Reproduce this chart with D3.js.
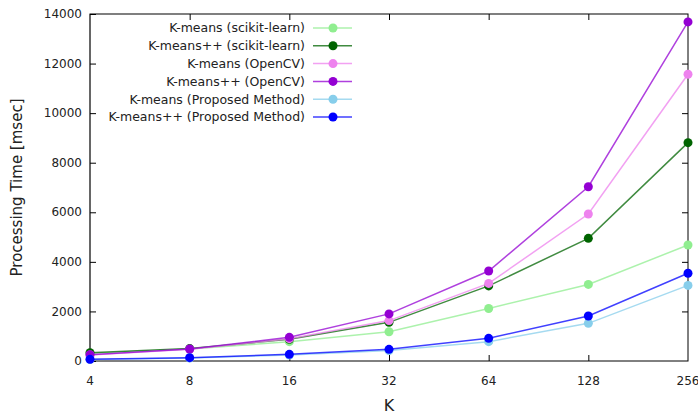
<!DOCTYPE html>
<html>
<head>
<meta charset="UTF-8">
<title></title>
<script src="https://cdn.jsdelivr.net/npm/d3@7/dist/d3.min.js"></script>
<style>
  body { margin: 0; background: #fff; }
  text { font-family: "DejaVu Sans", Verdana, sans-serif; fill: #222; }
</style>
</head>
<body>
<svg id="chart"></svg>
<script>
var kValues = [4, 8, 16, 32, 64, 128, 256];
var yTicks = [0, 2000, 4000, 6000, 8000, 10000, 12000, 14000];

var seriesNames = [
  "K-means (scikit-learn)",
  "K-means++ (scikit-learn)",
  "K-means (OpenCV)",
  "K-means++ (OpenCV)",
  "K-means (Proposed Method)",
  "K-means++ (Proposed Method)"
];
var seriesColors = ["#90ee90", "#006400", "#ee82ee", "#9400d3", "#87ceeb", "#0000ff"];

var kmeansSk     = [300, 480, 780, 1180, 2120, 3090, 4680];
var kmeansppSk   = [335, 500, 875, 1560, 3030, 4950, 8810];
var kmeansCv     = [240, 470, 900, 1630, 3130, 5930, 11570];
var kmeansppCv   = [250, 485, 955, 1900, 3630, 7030, 13680];
var kmeansProp   = [60, 120, 240, 420, 780, 1520, 3050];
var kmeansppProp = [70, 135, 270, 470, 915, 1815, 3540];

var seriesValues = [kmeansSk, kmeansppSk, kmeansCv, kmeansppCv, kmeansProp, kmeansppProp];

var width = 698, height = 414;
var margin = {top: 14, right: 10, bottom: 53, left: 90};

var svg = d3.select("#chart").attr("width", width).attr("height", height);

var x = d3.scaleLog().base(2)
  .domain([4, 256])
  .range([margin.left, width - margin.right]);
var y = d3.scaleLinear()
  .domain([0, 14000])
  .range([height - margin.bottom, margin.top]);

var tickLen = 6;

// frame
svg.append("rect")
  .attr("x", margin.left).attr("y", margin.top)
  .attr("width", width - margin.right - margin.left)
  .attr("height", height - margin.bottom - margin.top)
  .attr("fill", "none").attr("stroke", "#000").attr("stroke-width", 1);
svg.append("line")
  .attr("x1", margin.left).attr("x2", margin.left)
  .attr("y1", margin.top).attr("y2", height - margin.bottom)
  .attr("stroke", "#666").attr("stroke-width", 2);

// y axis (ticks inside, mirrored on right)
var gy = svg.append("g").attr("transform", "translate(" + margin.left + ",0)")
  .call(d3.axisRight(y).tickValues(yTicks).tickSize(tickLen).tickFormat(""));
gy.select(".domain").remove();
svg.append("g").attr("transform", "translate(" + (width - margin.right) + ",0)")
  .call(d3.axisLeft(y).tickValues(yTicks.slice(1, -1)).tickSize(tickLen).tickFormat(""))
  .select(".domain").remove();
svg.append("g").selectAll("text").data(yTicks).enter().append("text")
  .attr("x", margin.left - 8)
  .attr("y", function(d) { return y(d); })
  .attr("dy", "0.35em")
  .attr("text-anchor", "end")
  .attr("font-size", 12)
  .text(function(d) { return d; });

// x axis (ticks inside, mirrored on top)
svg.append("g").attr("transform", "translate(0," + (height - margin.bottom) + ")")
  .call(d3.axisTop(x).tickValues(kValues.slice(1, -1)).tickSize(tickLen).tickFormat(""))
  .select(".domain").remove();
svg.append("g").attr("transform", "translate(0," + margin.top + ")")
  .call(d3.axisBottom(x).tickValues(kValues.slice(1, -1)).tickSize(tickLen).tickFormat(""))
  .select(".domain").remove();
svg.append("g").selectAll("text").data(kValues).enter().append("text")
  .attr("x", function(d) { return x(d); })
  .attr("y", height - margin.bottom + 24)
  .attr("text-anchor", "middle")
  .attr("font-size", 12)
  .text(function(d) { return d; });

svg.selectAll(".tick line").attr("stroke", "#000");

// axis titles
svg.append("text")
  .attr("x", (margin.left + width - margin.right) / 2)
  .attr("y", 411)
  .attr("text-anchor", "middle")
  .attr("font-size", 16)
  .text("K");
svg.append("text")
  .attr("transform", "translate(22," + (margin.top + (height - margin.bottom - margin.top) / 2) + ") rotate(-90)")
  .attr("text-anchor", "middle")
  .attr("font-size", 15)
  .text("Processing Time [msec]");

// series
var line = d3.line()
  .x(function(d, i) { return x(kValues[i]); })
  .y(function(d) { return y(d); });

seriesValues.forEach(function(vals, s) {
  var g = svg.append("g");
  g.append("path").datum(vals)
    .attr("d", line)
    .attr("fill", "none")
    .attr("stroke", seriesColors[s])
    .attr("stroke-opacity", 0.75)
    .attr("stroke-width", 1.5);
  g.selectAll("circle").data(vals).enter().append("circle")
    .attr("cx", function(d, i) { return x(kValues[i]); })
    .attr("cy", function(d) { return y(d); })
    .attr("r", 4.5)
    .attr("fill", seriesColors[s]);
});

// legend
var legend = svg.append("g");
seriesNames.forEach(function(name, s) {
  var ly = 28 + s * 17.8;
  legend.append("text")
    .attr("x", 305).attr("y", ly).attr("dy", "0.35em")
    .attr("text-anchor", "end")
    .attr("font-size", 12.5)
    .text(name);
  legend.append("line")
    .attr("x1", 313).attr("x2", 352).attr("y1", ly).attr("y2", ly)
    .attr("stroke", seriesColors[s]).attr("stroke-opacity", 0.75).attr("stroke-width", 1.5);
  legend.append("circle")
    .attr("cx", 333).attr("cy", ly).attr("r", 4.5)
    .attr("fill", seriesColors[s]);
});
</script>
</body>
</html>
